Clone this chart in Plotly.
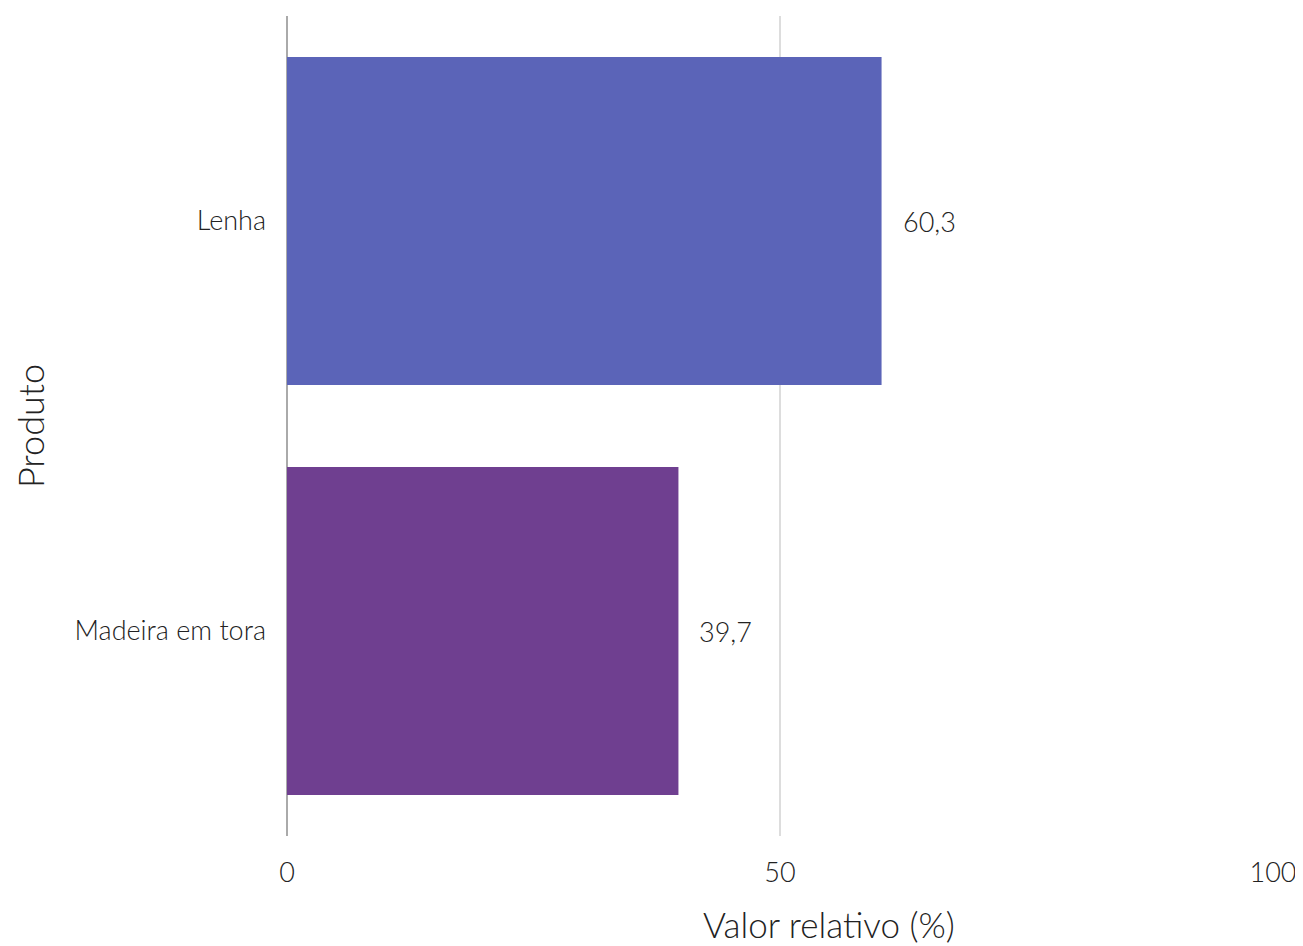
import plotly.graph_objects as go

categorias = ["Lenha", "Madeira em tora"]
valores = [60.3, 39.7]
cores = ["#5B64B8", "#6F3F90"]
rotulos = ["60,3", "39,7"]

FONT = "Lato, sans-serif"
COR_TXT = "#222222"

fig = go.Figure()
for c, v, cor in zip(categorias, valores, cores):
    fig.add_trace(go.Bar(
        x=[v], y=[c], orientation="h", marker_color=cor,
        marker_line_width=0, width=0.8, showlegend=False, hoverinfo="skip",
    ))

for c, v, t in zip(categorias, valores, rotulos):
    fig.add_annotation(
        x=v, y=c, text=t, showarrow=False, xanchor="left", xshift=19,
        font=dict(family=FONT, size=27, color=COR_TXT, weight=300),
    )

# x-axis title (placed slightly right of centre, as in the reference)
fig.add_annotation(
    text="Valor relativo (%)", xref="paper", yref="paper", x=0.55, y=0,
    xanchor="center", yanchor="middle", yshift=-88, showarrow=False,
    font=dict(family=FONT, size=35, color=COR_TXT, weight=300),
)

fig.update_layout(
    width=1295, height=938,
    margin=dict(l=279, r=30, t=8, b=110),
    plot_bgcolor="white", paper_bgcolor="white",
    barmode="overlay",
    separators=",.",
    font=dict(family=FONT, size=27, color=COR_TXT, weight=300),
)
fig.update_xaxes(
    range=[0, 100], tickvals=[0, 50, 100],
    showgrid=True, gridcolor="#DDDDDD", gridwidth=1.5,
    zeroline=True, zerolinecolor="#AAAAAA", zerolinewidth=2,
    showline=False, ticks="", ticklabelstandoff=18,
    tickfont=dict(family=FONT, size=27, color=COR_TXT, weight=300),
)
fig.update_yaxes(
    categoryorder="array", categoryarray=categorias[::-1],
    showgrid=False, zeroline=False, showline=False, ticks="",
    ticklabelstandoff=20,
    tickfont=dict(family=FONT, size=27, color=COR_TXT, weight=300),
    title=dict(text="Produto", font=dict(family=FONT, size=36, color=COR_TXT, weight=300), standoff=31),
)

fig.write_html("out.html")
